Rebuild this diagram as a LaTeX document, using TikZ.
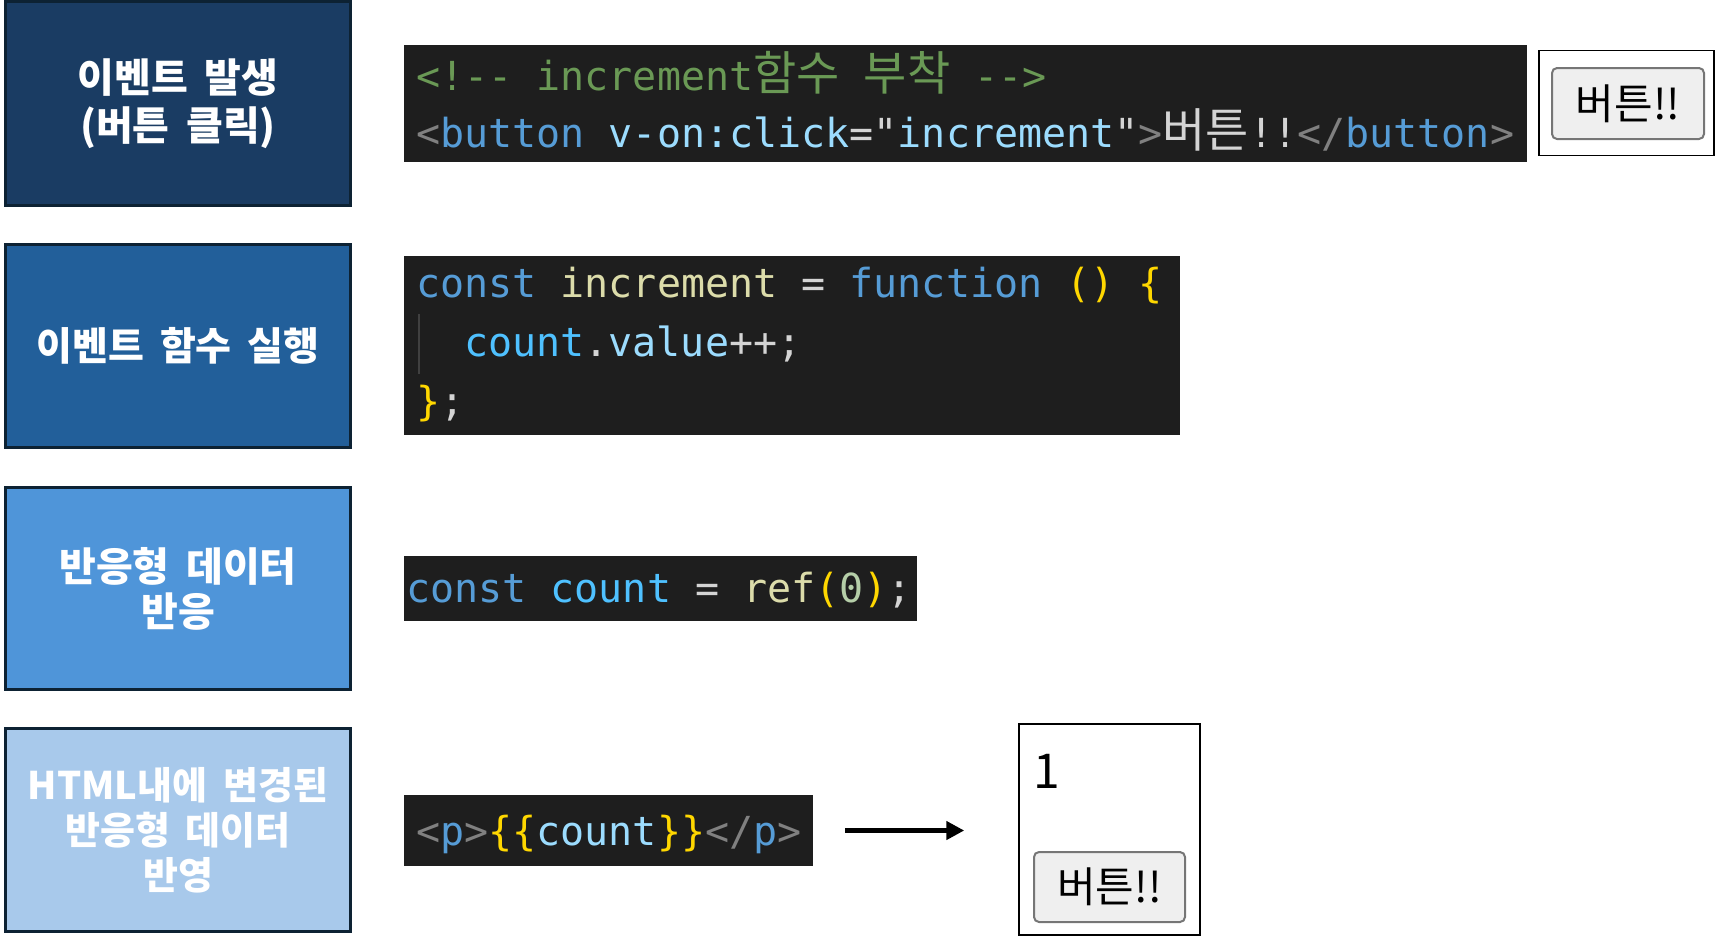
\documentclass[tikz,border=0pt]{standalone}
\usepackage{fontspec}
\setmainfont{Noto Sans CJK KR}[WordSpace=1.8]
\newfontfamily\krfont{Noto Sans CJK KR}
\newfontfamily\codefont{DejaVu Sans Mono}
\usetikzlibrary{arrows.meta}
\definecolor{cA}{HTML}{1A3C63}
\definecolor{cB}{HTML}{225F9A}
\definecolor{cC}{HTML}{4F95D9}
\definecolor{cD}{HTML}{A8C9EB}
\definecolor{boxline}{HTML}{0D2233}
\definecolor{codebgc}{HTML}{1E1E1E}
\definecolor{cgreen}{HTML}{6A9955}
\definecolor{cgray}{HTML}{808080}
\definecolor{cblue}{HTML}{569CD6}
\definecolor{clight}{HTML}{9CDCFE}
\definecolor{cwhite}{HTML}{D4D4D4}
\definecolor{cyel}{HTML}{DCDCAA}
\definecolor{cgold}{HTML}{FFD700}
\definecolor{ccount}{HTML}{4FC1FF}
\definecolor{cnum}{HTML}{B5CEA8}
\definecolor{guidec}{HTML}{404040}
\definecolor{btnline}{HTML}{767676}
\definecolor{btnfill}{HTML}{EFEFEF}
\newcommand\codecol[2]{{\color{#1}#2}}
\newcommand\codekr[1]{{\krfont\fontsize{47}{57}\selectfont #1}}
\begin{document}
\begin{tikzpicture}[x=1pt,y=-1pt,
  lbox/.style={draw=boxline, line width=3pt, minimum width=345pt, inner sep=0pt, text=white, align=center},
  codeblock/.style={fill=codebgc, inner sep=0pt, draw=none},
  codeline/.style={anchor=base west, inner sep=0pt, font=\codefont\fontsize{40}{57}\selectfont},
  frame/.style={draw=black, line width=1.5pt, inner sep=0pt},
  btn/.style={draw=btnline, fill=btnfill, line width=2pt, rounded corners=5pt, inner sep=0pt, font=\fontsize{42}{50}\selectfont},
  flow/.style={line width=4.5pt, -{Triangle[length=18pt,width=18pt]}}
]
\useasboundingbox (0,0) rectangle (1715,938);

% left boxes
\node[lbox, fill=cA, minimum height=204pt, font=\bfseries\fontsize{40}{48}\selectfont] (e1) at (178,103.5) {이벤트 발생\\(버튼 클릭)};
\node[lbox, fill=cB, minimum height=203pt, font=\bfseries\fontsize{39}{48}\selectfont] (e2) at (178,346) {이벤트 함수 실행};
\node[lbox, fill=cC, minimum height=202pt, font=\bfseries\fontsize{40}{45}\selectfont] (e3) at (178,588.5) {반응형 데이터\\반응};
\node[lbox, fill=cD, minimum height=203pt, font=\bfseries\fontsize{38}{45}\selectfont] (e4) at (178,830) {HTML내에 변경된\\반응형 데이터\\반영};

% code blocks
\node[codeblock, minimum width=1123pt, minimum height=117pt] (k1) at (965.5,103.5) {};
\node[codeblock, minimum width=776pt, minimum height=179pt] (k2) at (792,345.5) {};
\node[codeblock, minimum width=513pt, minimum height=65pt] (k3) at (660.5,588.5) {};
\node[codeblock, minimum width=409pt, minimum height=71pt] (k4) at (608.5,830.5) {};

\node[codeline] (k1a) at (416,90) {\codecol{cgreen}{<!-{}- increment\codekr{함수} \codekr{부착} -{}->}};
\node[codeline] (k1b) at (416,147) {\codecol{cgray}{<}\codecol{cblue}{button} \codecol{clight}{v-on:click}\codecol{cwhite}{="}\codecol{clight}{increment}\codecol{cwhite}{"}\codecol{cgray}{>}\codecol{cwhite}{\codekr{버튼}!!}\codecol{cgray}{</}\codecol{cblue}{button}\codecol{cgray}{>}};

\draw[guidec, line width=1.5pt] (419,314) -- (419,374);
\node[codeline] (k2a) at (416,297) {\codecol{cblue}{const} \codecol{cyel}{increment} \codecol{cwhite}{=} \codecol{cblue}{function} \codecol{cgold}{()} \codecol{cgold}{\{}};
\node[codeline] (k2b) at (464,356) {\codecol{ccount}{count}\codecol{cwhite}{.}\codecol{clight}{value}\codecol{cwhite}{++;}};
\node[codeline] (k2c) at (416,415) {\codecol{cgold}{\}}\codecol{cwhite}{;}};

\node[codeline] (k3a) at (406,602) {\codecol{cblue}{const} \codecol{ccount}{count} \codecol{cwhite}{=} \codecol{cyel}{ref}\codecol{cgold}{(}\codecol{cnum}{0}\codecol{cgold}{)}\codecol{cwhite}{;}};

\node[codeline] (k4a) at (416,845) {\codecol{cgray}{<}\codecol{cblue}{p}\codecol{cgray}{>}\codecol{cgold}{\{\{}\codecol{clight}{count}\codecol{cgold}{\}\}}\codecol{cgray}{</}\codecol{cblue}{p}\codecol{cgray}{>}};

% rendered buttons
\node[frame, minimum width=175pt, minimum height=105pt] (o1) at (1626.5,103) {};
\node[btn, minimum width=152pt, minimum height=71pt] (b1) at (1628,103.5) {버튼!!};

\node[frame, minimum width=181pt, minimum height=211pt] (res) at (1109.5,829.5) {};
\node[btn, minimum width=151pt, minimum height=70pt] (b2) at (1109.5,887) {버튼!!};
\node[anchor=base west, inner sep=0pt, font=\fontsize{48}{50}\selectfont] (one) at (1033,788) {1};

\draw[flow, shorten <=32pt, shorten >=54pt] (k4.east) -- (k4.east -| res.west);
\end{tikzpicture}
\end{document}
